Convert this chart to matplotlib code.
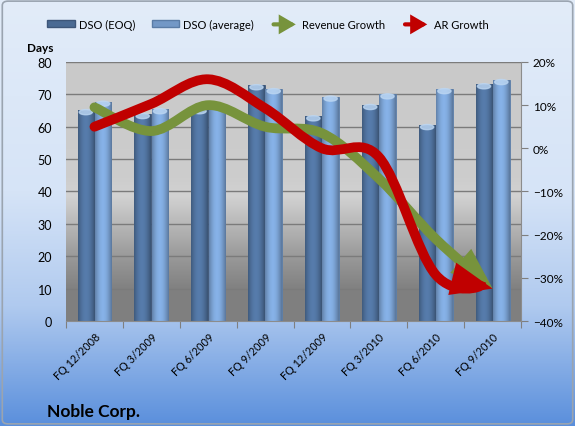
import numpy as np
import matplotlib
matplotlib.use("Agg")
import matplotlib.pyplot as plt
import matplotlib.patches as mpatches
from matplotlib.path import Path
from matplotlib.colors import LinearSegmentedColormap
from matplotlib.legend_handler import HandlerPatch
from matplotlib.ticker import PercentFormatter

plt.rcParams['font.family'] = ['Lato', 'DejaVu Sans']

# --- data ---
quarters = ["FQ 12/2008", "FQ 3/2009", "FQ 6/2009", "FQ 9/2009",
            "FQ 12/2009", "FQ 3/2010", "FQ 6/2010", "FQ 9/2010"]
dso_eoq = [65.1, 63.9, 65.4, 72.8, 63.2, 66.7, 60.5, 73.1]
dso_avg = [67.7, 65.4, 67.0, 71.6, 69.3, 70.0, 71.6, 74.4]
revenue_growth = [9.5, 4.0, 10.0, 5.0, 3.5, -7.0, -21.0, -32.5]
ar_growth = [5.0, 10.3, 16.0, 9.3, 0.0, -2.0, -29.3, -32.5]

EOQ_COLOR = "#4a6a93"
AVG_COLOR = "#7398c6"
GREEN = "#77933c"
RED = "#c00000"


def smooth_path(xs, ys):
    # Excel-style smoothed line: cubic bezier through every point
    pts = np.column_stack([xs, ys]).astype(float)
    n = len(pts)
    verts = [pts[0]]
    codes = [Path.MOVETO]
    for i in range(n - 1):
        p_prev = pts[max(i - 1, 0)]
        p0 = pts[i]
        p1 = pts[i + 1]
        p_next = pts[min(i + 2, n - 1)]
        c1 = p0 + (p1 - p_prev) / 6.0
        c2 = p1 - (p_next - p0) / 6.0
        verts += [c1, c2, p1]
        codes += [Path.CURVE4] * 3
    return Path(np.array(verts), codes)


def bar_gradient(ax, bars, base_color):
    rgb = np.array(matplotlib.colors.to_rgb(base_color))
    prof = np.linspace(0, 1, 40)
    shade = 0.72 + 0.45 * np.sin(np.pi * (prof * 0.85 + 0.1))
    img = np.clip(rgb[None, :] * shade[:, None], 0, 1)[None, :, :]
    for b in bars:
        x0, y0 = b.get_x(), b.get_y()
        w, h = b.get_width(), b.get_height()
        im = ax.imshow(img, extent=[x0, x0 + w, y0, y0 + h], aspect='auto',
                       zorder=2, interpolation='bilinear')
        im.set_clip_path(b)
        # light cap on top of the cylinder
        cap = mpatches.Ellipse((x0 + w / 2, y0 + h - 0.6), w * 0.8, 1.6,
                               color="#bcd6f2", zorder=3, alpha=0.8)
        ax.add_patch(cap)


fig = plt.figure(figsize=(5.75, 4.27), dpi=100)

# figure background
bg = fig.add_axes([0, 0, 1, 1], zorder=-10)
bg_cmap = LinearSegmentedColormap.from_list(
    "bg", [(0, "#e2ecf9"), (0.45, "#d6e4f7"), (0.72, "#b0caef"), (1, "#5a8fdc")])
bg.imshow(np.linspace(0, 1, 256)[:, None], cmap=bg_cmap, aspect='auto',
          extent=[0, 1, 0, 1], origin='upper')
bg.add_patch(mpatches.FancyBboxPatch((0.004, 0.005), 0.992, 0.99,
                                     boxstyle="round,pad=0,rounding_size=0.01",
                                     fill=False, ec="#9aa4b0", lw=1.2,
                                     transform=bg.transAxes))
bg.set_xlim(0, 1)
bg.set_ylim(0, 1)
bg.axis('off')

ax = fig.add_axes([0.1148, 0.2459, 0.7914, 0.6066])
x = np.arange(len(quarters))

# plot area gradient
pa_cmap = LinearSegmentedColormap.from_list(
    "pa", [(0, "#c9c9c9"), (0.45, "#cdcdcd"), (0.52, "#d2d2d2"),
           (0.75, "#9a9a9a"), (0.88, "#808080"), (1, "#7f7f7f")])
ax.imshow(np.linspace(0, 1, 256)[:, None], cmap=pa_cmap, aspect='auto',
          extent=[-0.5, 7.5, 0, 80], origin='upper', zorder=0)

bars1 = ax.bar(x - 0.152, dso_eoq, width=0.29, color=EOQ_COLOR,
               edgecolor="#3d5679", lw=0.6, zorder=2)
bars2 = ax.bar(x + 0.152, dso_avg, width=0.29, color=AVG_COLOR,
               edgecolor="#5a7ca6", lw=0.6, zorder=2)
bar_gradient(ax, bars1, EOQ_COLOR)
bar_gradient(ax, bars2, AVG_COLOR)

ax.set_xlim(-0.5, 7.5)
ax.set_ylim(0, 80)
ax.set_yticks(range(0, 81, 10))
ax.yaxis.grid(True, color="#7b7b7b", lw=1.0)
ax.set_axisbelow(True)
ax.tick_params(axis='y', length=0, labelsize=9, pad=10)
ax.set_xticks(np.arange(-0.5, 8, 1), minor=False)
ax.set_xticklabels([])
ax.set_xticks(x, minor=True)
ax.set_xticklabels(quarters, minor=True, rotation=45, ha='right',
                   va='top', rotation_mode='anchor', fontsize=7.8)
ax.tick_params(axis='x', which='major', length=5, color="#7f7f7f")
ax.tick_params(axis='x', which='minor', length=0, pad=7)
for s in ['top', 'right']:
    ax.spines[s].set_visible(False)
ax.spines['left'].set_visible(False)
ax.spines['bottom'].set_color("#8c8c8c")

ax2 = ax.twinx()
ax2.set_ylim(-40, 20)
ax2.set_yticks(range(-40, 21, 10))
ax2.yaxis.set_major_formatter(PercentFormatter(decimals=0))
ax2.tick_params(axis='y', length=5, color="#7f7f7f", labelsize=8.5)
for s in ['top', 'left', 'bottom']:
    ax2.spines[s].set_visible(False)
ax2.spines['right'].set_color("#8c8c8c")

for series, col, hw in [(revenue_growth, GREEN, 0.32), (ar_growth, RED, 0.34)]:
    arrow = mpatches.FancyArrowPatch(
        path=smooth_path(x, series),
        arrowstyle=f"-|>,head_length=0.85,head_width={hw}",
        mutation_scale=20, lw=7, color=col, capstyle='round',
        joinstyle='miter', transform=ax2.transData, zorder=5)
    ax2.add_patch(arrow)

fig.text(0.047, 0.878, "Days", fontsize=8.5, fontweight='bold')
fig.text(0.082, 0.024, "Noble Corp.", fontsize=12.5, fontweight='bold')


def make_arrow(legend, orig_handle, xdescent, ydescent, width, height, fontsize):
    return mpatches.FancyArrowPatch((-xdescent, height / 2),
                                    (width - xdescent, height / 2),
                                    arrowstyle="-|>,head_length=0.6,head_width=0.35",
                                    mutation_scale=13, joinstyle='miter')


handles = [
    mpatches.Patch(facecolor=EOQ_COLOR, edgecolor="#3d5679"),
    mpatches.Patch(facecolor=AVG_COLOR, edgecolor="#5a7ca6"),
    mpatches.Patch(color=GREEN, lw=3),
    mpatches.Patch(color=RED, lw=3),
]
labels = ["DSO (EOQ)", "DSO (average)", "Revenue Growth", "AR Growth"]
fig.legend(handles, labels, loc='center left', bbox_to_anchor=(0.0817, 0.941),
           ncol=4, frameon=False, fontsize=8, handlelength=2.5,
           handleheight=0.55, columnspacing=1.5, handletextpad=0.35,
           borderpad=0, borderaxespad=0,
           handler_map={handles[2]: HandlerPatch(patch_func=make_arrow),
                        handles[3]: HandlerPatch(patch_func=make_arrow)})

fig.savefig("out.png", dpi=100)
